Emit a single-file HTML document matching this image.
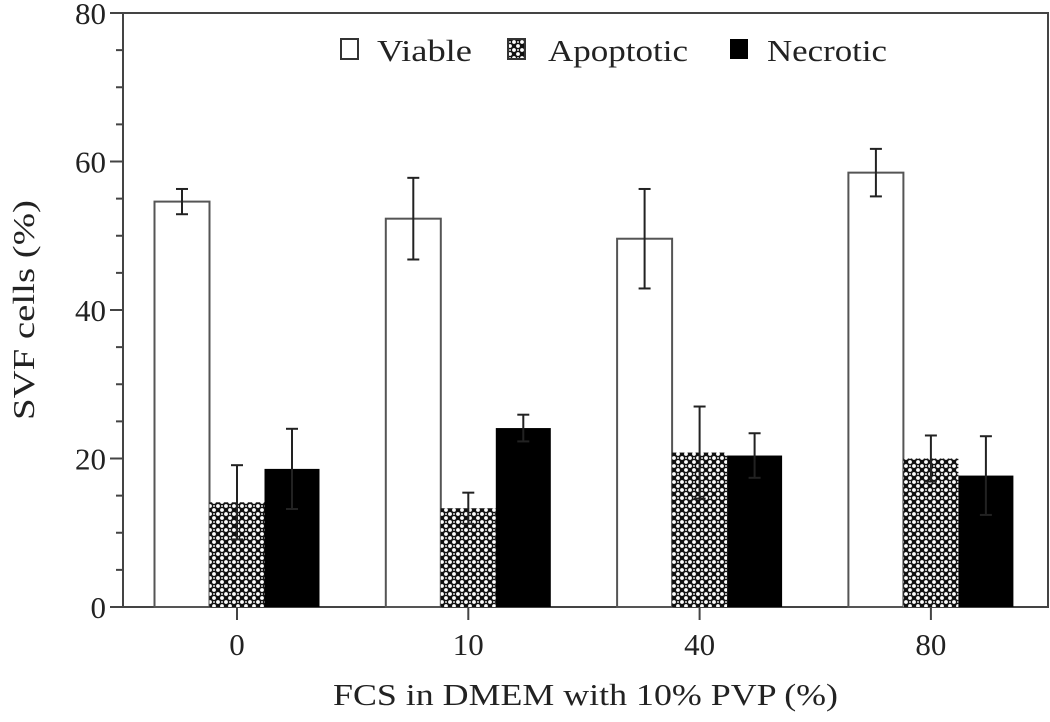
<!DOCTYPE html>
<html><head><meta charset="utf-8"><style>
body{margin:0;background:#fff}
svg{display:block;font-family:"Liberation Serif",serif}
</style></head><body>
<svg width="1050" height="722" viewBox="0 0 1050 722">
<defs>
<pattern id="dots" width="8" height="8" patternUnits="userSpaceOnUse">
<rect width="8" height="8" fill="#111"/>
<circle cx="2" cy="2" r="1.9" fill="#fff"/>
<circle cx="6" cy="6" r="1.9" fill="#fff"/>
<circle cx="6" cy="2" r="1" fill="#ddd"/>
</pattern>
</defs>
<g id="plot"></g>
<g>
<rect x="341" y="39" width="17" height="20" fill="#fff" stroke="#333" stroke-width="2"/>
<text x="377" y="61" font-size="31" textLength="95" lengthAdjust="spacingAndGlyphs" fill="#222">Viable</text>
<rect x="508" y="39" width="17" height="20" fill="url(#dots)" stroke="#333" stroke-width="2"/>
<text x="548" y="61" font-size="31" textLength="140" lengthAdjust="spacingAndGlyphs" fill="#222">Apoptotic</text>
<rect x="730" y="39" width="18" height="20" fill="#000"/>
<text x="767" y="61" font-size="31" textLength="120" lengthAdjust="spacingAndGlyphs" fill="#222">Necrotic</text>
</g>
<text x="333" y="705" font-size="31" textLength="505" lengthAdjust="spacingAndGlyphs" fill="#222">FCS in DMEM with 10% PVP (%)</text>
<text transform="translate(34,420) rotate(-90)" font-size="31" textLength="220" lengthAdjust="spacingAndGlyphs" fill="#222">SVF cells (%)</text>
</svg>
<script>
const categories=["0","10","40","80"];
const viable=[54.6,52.3,49.6,58.5];
const viableErr=[1.7,5.5,6.7,3.2];
const apoptotic=[14.1,13.3,20.8,20.0];
const apoptoticErr=[5.0,2.1,6.2,3.1];
const necrotic=[18.6,24.1,20.4,17.7];
const necroticErr=[5.4,1.8,3.0,5.3];
const yTicks=[0,20,40,60,80];
const NS="http://www.w3.org/2000/svg";
const g=document.getElementById('plot');
const X0=123,X1=1048,Y0=607,Y1=13,YMAX=80;
const y=v=>Y0-(Y0-Y1)*v/YMAX;
const groupCenter=i=>237+i*231.3;
const BW=55;
function mk(tag,attrs){const e=document.createElementNS(NS,tag);for(const k in attrs)e.setAttribute(k,attrs[k]);g.appendChild(e);return e;}
let e=mk('rect',{x:X0,y:Y1,width:X1-X0,height:Y0-Y1,fill:'none',stroke:'#444','stroke-width':2});


for(let v=0;v<=YMAX;v+=5){
  const major=v%20===0;
  e=mk('line',{x1:major?110:116,x2:X0,y1:y(v),y2:y(v),stroke:'#444','stroke-width':2});
  
  
}
yTicks.forEach(v=>{
  const t=mk('text',{x:106,y:y(v)+11,'font-size':31,'text-anchor':'end',fill:'#222'});
  t.textContent=v;
  
  
});
const series=[[viable,viableErr,'#fff','viable'],[apoptotic,apoptoticErr,'url(#dots)','apoptotic'],[necrotic,necroticErr,'#000','necrotic']];
categories.forEach((c,i)=>{
  const cx=groupCenter(i);
  series.forEach((s,j)=>{
    const v=s[0][i],er=s[1][i];
    const bx=cx-BW*1.5+j*BW;
    const r=mk('rect',{x:bx,y:y(v),width:BW,height:Y0-y(v),fill:s[2],stroke:j===0?'#555':'none','stroke-width':2});
    
    
    const ex=bx+BW/2;
    const l=mk('line',{x1:ex,x2:ex,y1:y(v+er),y2:y(v-er),stroke:'#222','stroke-width':2});
    
    
    [v+er,v-er].forEach(w=>{
      const cp=mk('line',{x1:ex-6,x2:ex+6,y1:y(w),y2:y(w),stroke:'#222','stroke-width':2});
      
      
    });
  });
  const tk=mk('line',{x1:cx,x2:cx,y1:Y0,y2:Y0+13,stroke:'#444','stroke-width':2});
  
  
  const t=mk('text',{x:cx,y:655,'font-size':31,'text-anchor':'middle',fill:'#222'});
  t.textContent=c;
  
  
});
</script>
</body></html>
